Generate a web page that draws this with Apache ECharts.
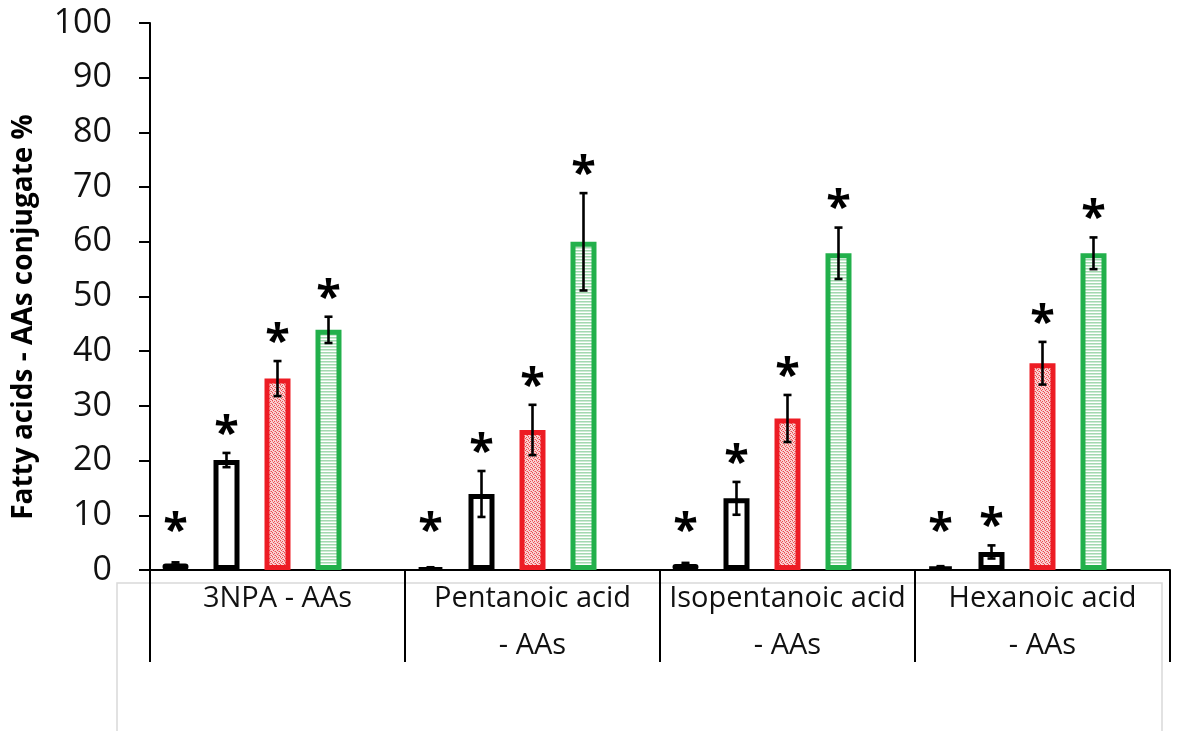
<!DOCTYPE html>
<html>
<head>
<meta charset="utf-8">
<script src="https://cdn.jsdelivr.net/npm/echarts@6/dist/echarts.min.js"></script>
<style>
  html, body { margin: 0; padding: 0; background: #ffffff; }
  #chart { width: 1178px; height: 731px; }
</style>
</head>
<body>
<div id="chart"></div>
<script>
// Conjugate groups along the x axis
const categories = ['3NPA - AAs', 'Pentanoic acid\n- AAs', 'Isopentanoic acid\n- AAs', 'Hexanoic acid\n- AAs'];

// Mean conjugate % per group, one array per treatment
const solidMeans = [1.2, 0.4, 1.1, 0.6];
const solidErr   = [0.2, 0.1, 0.2, 0.1];
const openMeans  = [20.1, 13.9, 13.1, 3.3];
const openErr    = [1.3, 4.2, 3.0, 1.2];
const redMeans   = [35.0, 25.6, 27.7, 37.8];
const redErr     = [3.2, 4.6, 4.3, 3.9];
const greenMeans = [43.9, 60.0, 57.9, 57.9];
const greenErr   = [2.4, 8.9, 4.7, 2.9];

// Significance marks over every bar
const starText = '*';

// Axis ticks
const yMin = 0, yMax = 100, yStep = 10;

const BAR_W = 26;          // outer bar width in px (border is drawn inside)
const SLOT = 51;           // distance between neighbouring bar centres
const BAR_GAP = (SLOT - BAR_W) / BAR_W;
const SLOTS = 5;           // four drawn bars plus one empty slot per group

function makePattern(w, h, paint) {
  const c = document.createElement('canvas');
  c.width = w; c.height = h;
  paint(c.getContext('2d'));
  return c;
}

// Fine red stipple
const redStipple = makePattern(4, 4, ctx => {
  ctx.fillStyle = '#f9d3d3';
  ctx.fillRect(0, 0, 4, 4);
  ctx.fillStyle = '#ec4b50';
  [[0, 0], [2, 1], [1, 2], [3, 3]].forEach(p => ctx.fillRect(p[0], p[1], 1, 1));
  ctx.fillStyle = '#f29a9c';
  [[2, 3], [0, 1]].forEach(p => ctx.fillRect(p[0], p[1], 1, 1));
});

// Light green horizontal stripes
const greenStripes = makePattern(4, 3, ctx => {
  ctx.fillStyle = '#ffffff'; ctx.fillRect(0, 0, 4, 1);
  ctx.fillStyle = '#a3d8b0'; ctx.fillRect(0, 1, 4, 1);
  ctx.fillStyle = '#cdebd4'; ctx.fillRect(0, 2, 4, 1);
});

function barSeries(name, data, itemStyle) {
  return {
    name, type: 'bar', data,
    barWidth: BAR_W, barGap: (BAR_GAP * 100).toFixed(2) + '%',
    itemStyle, z: 2
  };
}

function errorSeries(slot, means, errs) {
  return {
    type: 'custom',
    z: 5,
    encode: { x: 0, y: 1 },
    data: means.map((m, i) => [i, m, errs[i]]),
    renderItem: function (params, api) {
      const ci = api.value(0), m = api.value(1), e = api.value(2);
      const base = api.coord([ci, 0]);
      const x = base[0] + (slot - (SLOTS - 1) / 2) * SLOT;
      const top = api.coord([ci, m + e])[1];
      const bot = api.coord([ci, m - e])[1];
      const cap = 4;
      const ls = { stroke: '#000', lineWidth: 2.6 };
      const starY = Math.min(top - 28, base[1] - 48);
      return {
        type: 'group',
        children: [
          { type: 'line', shape: { x1: x, y1: top, x2: x, y2: bot }, style: ls },
          { type: 'line', shape: { x1: x - cap, y1: top, x2: x + cap, y2: top }, style: ls },
          { type: 'line', shape: { x1: x - cap, y1: bot, x2: x + cap, y2: bot }, style: ls },
          {
            type: 'text',
            style: {
              text: starText, x: x, y: starY + 10,
              font: 'bold 45px "Open Sans"', fill: '#000',
              align: 'center', verticalAlign: 'middle'
            }
          }
        ]
      };
    }
  };
}

const chart = echarts.init(document.getElementById('chart'), null, { renderer: 'canvas' });

chart.setOption({
  animation: false,
  backgroundColor: '#ffffff',
  grid: { left: 150, right: 8, top: 23, bottom: 161, containLabel: false },
  graphic: [
    {
      type: 'rect', z: -10, silent: true,
      shape: { x: 117, y: 583, width: 1045, height: 220 },
      style: { fill: 'none', stroke: '#d9d9d9', lineWidth: 1.5 }
    },
    {
      type: 'text', silent: true,
      x: 24, y: 317, rotation: Math.PI / 2,
      style: {
        text: 'Fatty acids - AAs conjugate %',
        font: 'bold 28px "Open Sans"', fill: '#000',
        align: 'center', verticalAlign: 'middle'
      }
    }
  ],
  xAxis: {
    type: 'category',
    data: categories,
    axisLine: { lineStyle: { color: '#000', width: 2 } },
    axisTick: { show: true, length: 92, lineStyle: { color: '#000', width: 2 } },
    axisLabel: {
      interval: 0, margin: 5,
      fontFamily: 'Open Sans', fontSize: 29, lineHeight: 47, color: '#111'
    },
    splitLine: { show: false }
  },
  yAxis: {
    type: 'value',
    min: yMin, max: yMax, interval: yStep,
    axisLine: { show: true, lineStyle: { color: '#000', width: 2 } },
    axisTick: { show: true, length: 11, lineStyle: { color: '#000', width: 2 } },
    axisLabel: { margin: 38, fontFamily: 'Open Sans', fontSize: 34, color: '#111' },
    splitLine: { show: false }
  },
  series: [
    barSeries('Solid', solidMeans, { color: '#000', borderColor: '#000', borderWidth: 4, borderRadius: 3 }),
    barSeries('Open', openMeans, { color: '#ffffff', borderColor: '#000', borderWidth: 5 }),
    barSeries('Red', redMeans, { color: { image: redStipple, repeat: 'repeat' }, borderColor: '#ed1c24', borderWidth: 5 }),
    barSeries('Green', greenMeans, { color: { image: greenStripes, repeat: 'repeat' }, borderColor: '#22b04b', borderWidth: 5 }),
    barSeries('Empty slot', [], { color: 'transparent' }),
    errorSeries(0, solidMeans, solidErr),
    errorSeries(1, openMeans, openErr),
    errorSeries(2, redMeans, redErr),
    errorSeries(3, greenMeans, greenErr)
  ]
});
</script>
</body>
</html>
